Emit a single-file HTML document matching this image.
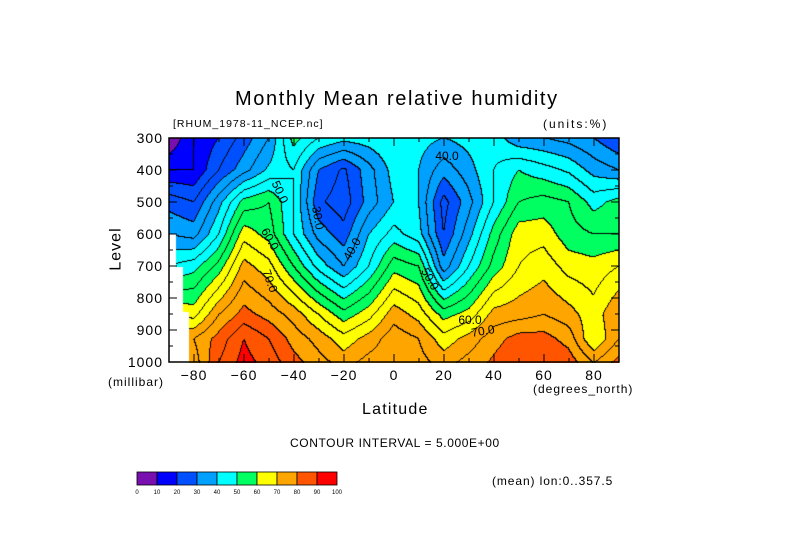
<!DOCTYPE html>
<html><head><meta charset="utf-8"><style>
body{margin:0;background:#fff;width:789px;height:558px;overflow:hidden;position:relative;font-family:"Liberation Sans",sans-serif;}
.t{position:absolute;white-space:nowrap;color:#000;}
canvas{position:absolute;left:169px;top:138px;}
svg{position:absolute;left:0;top:0;}
</style></head><body>
<div class="t" style="left:235px;top:88px;font-size:20px;letter-spacing:1.6px;">Monthly Mean relative humidity</div>
<div class="t" style="left:173px;top:118px;font-size:10.5px;letter-spacing:1px;">[RHUM_1978-11_NCEP.nc]</div>
<div class="t" style="left:543px;top:117px;font-size:12px;letter-spacing:2px;">(units:%)</div>
<canvas id="cv" width="450" height="225"></canvas>
<svg id="ax" width="789" height="558"></svg>
<div class="t" style="left:95px;top:240px;font-size:16px;letter-spacing:1px;transform:rotate(-90deg);">Level</div>
<div class="t" style="left:108px;top:375px;font-size:12px;letter-spacing:1px;">(millibar)</div>
<div class="t" style="left:533px;top:382px;font-size:12px;letter-spacing:1px;">(degrees_north)</div>
<div class="t" style="left:362px;top:401px;font-size:16px;letter-spacing:1.2px;">Latitude</div>
<div class="t" style="left:290px;top:436px;font-size:12px;letter-spacing:0.6px;">CONTOUR INTERVAL = 5.000E+00</div>
<div class="t" style="left:492px;top:474px;font-size:12px;letter-spacing:0.9px;">(mean) lon:0..357.5</div>
<script>
const lats=[-90,-80,-70,-60,-50,-40,-30,-20,-10,0,10,20,30,40,50,60,70,80,90];
const levels=[300,400,500,600,700,850,925,1000];
const rh300=[5,15,20,27,35,52,45,42,43,45,42,40,42,43,36,35,33,30,25];
const rh400=[15,15,25,33,41,45,30,24,33,42,40,32,38,45,50,47,44,38,35];
const rh500=[28,25,38,52,55,45,26,22,32,40,40,23,33,45,55,57,55,48,52];
const rh600=[35,33,45,63,58,45,33,27,40,47,42,25,38,52,63,63,57,55,55];
const rh700=[45,48,57,72,67,55,43,35,45,58,55,32,45,57,65,68,63,62,65];
const rh850=[65,63,75,82,78,73,65,57,63,73,68,58,62,72,73,75,72,67,75];
const rh925=[75,75,82,90,85,78,73,67,72,78,75,67,72,78,82,82,78,65,75];
const rh1000=[72,72,85,92,88,82,77,73,77,78,77,73,77,81,85,85,83,75,82];
const rows=[rh300,rh400,rh500,rh600,rh700,rh850,rh925,rh1000];
const groundLat=[-87,-84.5,-82];
const groundP=[600,700,840];
const colors=['#7a0fb0','#0000ff','#0050ff','#00a0ff','#00ffff','#00ff60','#ffff00','#ffa500','#ff5500','#ff0000'];
const cbTicks=[0,10,20,30,40,50,60,70,80,90,100];
const yTicks=[300,400,500,600,700,800,900,1000];
const xTicks=[-80,-60,-40,-20,0,20,40,60,80];
const X0=169,X1=619,Y0=138,Y1=362;
const xs=lat=>X0+(lat+90)/180*(X1-X0);
const ys=p=>Y0+(p-300)/700*(Y1-Y0);
function val(lat,p){
  let i=Math.min(lats.length-2,Math.max(0,Math.floor((lat-lats[0])/10)));
  let fx=(lat-lats[i])/(lats[i+1]-lats[i]);
  let j=0;while(j<levels.length-2&&p>levels[j+1])j++;
  let fy=(p-levels[j])/(levels[j+1]-levels[j]);fy=Math.max(0,Math.min(1,fy));
  const a=rows[j][i],b=rows[j][i+1],c=rows[j+1][i],d=rows[j+1][i+1];
  return (a*(1-fx)+b*fx)*(1-fy)+(c*(1-fx)+d*fx)*fy;
}
function ground(lat,p){for(let k=0;k<groundLat.length;k++){if(lat<groundLat[k]&&p>groundP[k])return true;}return false;}
const cv=document.getElementById('cv');const ctx=cv.getContext('2d');
const W=cv.width,H=cv.height;const img=ctx.createImageData(W,H);
const V=[],M=[];
for(let y=0;y<H;y++){for(let x=0;x<W;x++){const lat=-90+(x+0.5)/W*180,p=300+(y+0.5)/H*700;V.push(val(lat,p));M.push(ground(lat,p));}}
function hex(h){return [parseInt(h.substr(1,2),16),parseInt(h.substr(3,2),16),parseInt(h.substr(5,2),16)];}
const rgb=colors.map(hex);
for(let y=0;y<H;y++)for(let x=0;x<W;x++){
  const k=y*W+x;let c;
  if(M[k])c=[255,255,255];
  else{
    const lv=Math.floor(V[k]/5);let line=false;
    if(x+1<W&&!M[k+1]&&Math.floor(V[k+1]/5)!==lv)line=true;
    if(y+1<H&&!M[k+W]&&Math.floor(V[k+W]/5)!==lv)line=true;
    c=line?[0,0,0]:rgb[Math.max(0,Math.min(9,Math.floor(V[k]/10)))];
  }
  img.data[k*4]=c[0];img.data[k*4+1]=c[1];img.data[k*4+2]=c[2];img.data[k*4+3]=255;
}
ctx.putImageData(img,0,0);
const svg=document.getElementById('ax');const NS='http://www.w3.org/2000/svg';
function mk(tag,attrs){const e=document.createElementNS(NS,tag);for(const k in attrs)e.setAttribute(k,attrs[k]);svg.appendChild(e);return e;}
const fr=mk('rect',{x:X0,y:Y0,width:X1-X0,height:Y1-Y0,fill:'none',stroke:'#000','stroke-width':1.5});


yTicks.forEach(p=>{
  const y=ys(p);
  const tl=mk('line',{x1:X0,x2:X0+8,y1:y,y2:y,stroke:'#000'});
  
  
  mk('line',{x1:X1,x2:X1-8,y1:y,y2:y,stroke:'#000'});
  if(p<1000){const m=ys(p+50);mk('line',{x1:X0,x2:X0+4,y1:m,y2:m,stroke:'#000'});mk('line',{x1:X1,x2:X1-4,y1:m,y2:m,stroke:'#000'});}
  const t=mk('text',{x:163,y:y+5,'text-anchor':'end','font-size':14,'letter-spacing':1,'font-family':'Liberation Sans, sans-serif'});
  t.textContent=p;
  
  
});
for(let lat=-80;lat<=80;lat+=10){const x=xs(lat);const len=lat%20===0?8:4;mk('line',{x1:x,x2:x,y1:Y1,y2:Y1-len,stroke:'#000'});mk('line',{x1:x,x2:x,y1:Y0,y2:Y0+len,stroke:'#000'});}
xTicks.forEach(lat=>{
  const t=mk('text',{x:xs(lat),y:380,'text-anchor':'middle','font-size':14,'letter-spacing':1,'font-family':'Liberation Sans, sans-serif'});
  t.textContent=(lat<0?'\u2212'+(-lat):lat);
  
  
});
const clabels=[['40.0',447,160,0],['60.0',470,324,0],['70.0',483,335,-10],['50.0',280,196,65],['30.0',318,222,80],['40.0',352,253,-60],['60.0',270,243,60],['70.0',270,285,70],['50.0',430,283,60]];
clabels.forEach(c=>{
  const t=mk('text',{x:c[1],y:c[2],'text-anchor':'middle','font-size':12,'font-family':'Liberation Sans, sans-serif',transform:'rotate('+c[3]+' '+c[1]+' '+(c[2]-4)+')'});
  t.textContent=c[0];
  
  
});
colors.forEach((c,i)=>{
  const r=mk('rect',{x:137+i*20,y:472,width:20,height:13,fill:c,stroke:'#000','stroke-width':0.8});
  
  
});
cbTicks.forEach((v,i)=>{
  const t=mk('text',{x:137+i*20,y:494,'text-anchor':'middle','font-size':6,'font-family':'Liberation Sans, sans-serif'});
  t.textContent=v;
  
  
});
</script>
</body></html>
